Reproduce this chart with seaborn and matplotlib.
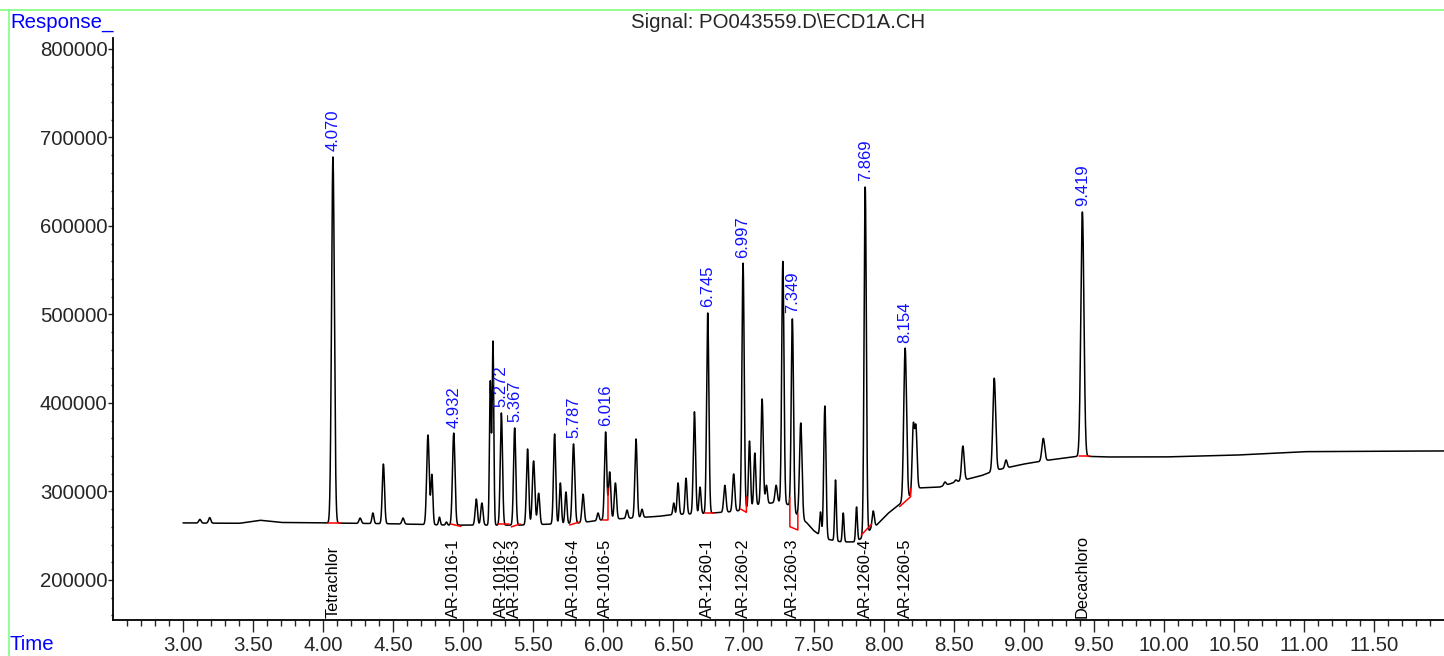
import numpy as np
import pandas as pd
import matplotlib.pyplot as plt
from matplotlib.lines import Line2D
from matplotlib.ticker import FixedLocator, FormatStrFormatter
import seaborn as sns

# baseline knots (time in min, response)
base_t = [3.00, 3.40, 3.55, 3.70, 4.00, 4.50, 4.90, 5.20, 5.40, 5.60, 5.80, 6.00,
          6.20, 6.40, 6.50, 6.70, 6.90, 7.00, 7.10, 7.25, 7.32, 7.40, 7.45, 7.50,
          7.55, 7.60, 7.70, 7.80, 7.85, 7.90, 7.95, 8.03, 8.10, 8.18, 8.25, 8.40,
          8.50, 8.70, 8.80, 9.00, 9.20, 9.40, 9.60, 10.00, 10.50, 11.00, 11.50, 12.00]
base_y = [264500, 264000, 267500, 265000, 264500, 263500, 262000, 262000, 262000,
          263000, 264000, 268000, 270000, 272000, 274000, 275000, 277000, 279000,
          285000, 288000, 285000, 270000, 265000, 256000, 250000, 246000, 243000,
          243000, 248000, 256000, 262000, 275000, 284000, 293000, 304000, 305000,
          310000, 318000, 324000, 331000, 336000, 340000, 339000, 339000, 341000,
          345000, 345500, 345800]

# peak table: retention time, apex response, width (sigma, min)
peak_rt = [3.12, 3.19, 4.070, 4.264, 4.355, 4.430, 4.570, 4.748, 4.776, 4.830, 4.880,
           4.932, 5.093, 5.133, 5.193, 5.212, 5.272, 5.367, 5.459, 5.502, 5.538, 5.652,
           5.693, 5.733, 5.787, 5.855, 5.962, 6.016, 6.045, 6.086, 6.169, 6.233, 6.276,
           6.502, 6.533, 6.590, 6.650, 6.690, 6.745, 6.867, 6.930, 6.997, 7.043, 7.081,
           7.133, 7.164, 7.233, 7.281, 7.349, 7.409, 7.550, 7.581, 7.657, 7.712, 7.807,
           7.869, 7.926, 8.154, 8.212, 8.231, 8.438, 8.516, 8.566, 8.790, 8.874, 9.140,
           9.419]
peak_top = [268500, 270500, 678000, 270000, 275700, 331000, 270000, 363800, 318600,
            271000, 265500, 366000, 291500, 287000, 423700, 469000, 388700, 371800,
            348000, 334500, 298000, 365000, 309600, 299400, 353700, 297000, 275700,
            367200, 322000, 309600, 279000, 359300, 280000, 287000, 309600, 315000,
            390000, 305000, 501700, 307000, 319800, 558000, 357000, 343500, 404500,
            307000, 307000, 560000, 495000, 377400, 276800, 396600, 313000, 275700,
            282500, 644000, 278000, 462000, 373000, 371000, 310700, 313000, 351400,
            428000, 335600, 360000, 615800]
peak_w = [0.008, 0.008, 0.010, 0.008, 0.007, 0.008, 0.008, 0.009, 0.007, 0.006, 0.006,
          0.009, 0.008, 0.008, 0.006, 0.006, 0.008, 0.008, 0.008, 0.009, 0.008, 0.008,
          0.007, 0.007, 0.009, 0.008, 0.007, 0.008, 0.008, 0.008, 0.007, 0.008, 0.007,
          0.006, 0.007, 0.007, 0.008, 0.007, 0.008, 0.008, 0.008, 0.008, 0.007, 0.007,
          0.008, 0.007, 0.008, 0.008, 0.008, 0.009, 0.006, 0.008, 0.006, 0.006, 0.006,
          0.008, 0.008, 0.010, 0.008, 0.008, 0.008, 0.008, 0.009, 0.010, 0.008, 0.010,
          0.011]

# integrated peaks: retention time label and compound name
label_rt = [4.070, 4.932, 5.272, 5.367, 5.787, 6.016, 6.745, 6.997, 7.349, 7.869, 8.154, 9.419]
label_top = [678000, 366000, 388700, 371800, 353700, 367200, 501700, 558000, 495000,
             644000, 462000, 615800]
compounds = ["Tetrachlor", "AR-1016-1", "AR-1016-2", "AR-1016-3", "AR-1016-4",
             "AR-1016-5", "AR-1260-1", "AR-1260-2", "AR-1260-3", "AR-1260-4",
             "AR-1260-5", "Decachloro"]

# integration baselines (red), one polyline per peak
red_t = [[4.036, 4.130], [4.912, 4.983], [5.248, 5.324], [5.343, 5.407],
         [5.759, 5.829], [5.998, 6.033, 6.033], [6.724, 6.793],
         [6.979, 7.021, 7.021], [7.331, 7.331, 7.388, 7.388], [7.841, 7.914],
         [8.114, 8.193, 8.193], [9.395, 9.474]]
red_y = [[264400, 264400], [263300, 260500], [263300, 263300], [260000, 263300],
         [262100, 265500], [267800, 267800, 304000], [275700, 275700],
         [280200, 276500, 293800], [293000, 260200, 256500, 275300], [250800, 263000],
         [282900, 294100, 303600], [340500, 340500]]

# build the trace from the peak table
t = np.arange(3.0, 12.0, 0.001)
baseline = np.interp(t, base_t, base_y)
signal = baseline.copy()
for rt, top, w in zip(peak_rt, peak_top, peak_w):
    amp = top - np.interp(rt, base_t, base_y)
    signal += amp * np.exp(-0.5 * ((t - rt) / w) ** 2)
trace = pd.DataFrame({"time": t, "response": signal})

sns.set_style("white")
plt.rcParams["font.family"] = ["Liberation Sans", "DejaVu Sans"]
plt.rcParams["font.size"] = 14.7

fig = plt.figure(figsize=(14.44, 6.56), dpi=100)
ax = fig.add_axes([113 / 1444, 36 / 656, 1331 / 1444, 582 / 656])

sns.lineplot(data=trace, x="time", y="response", ax=ax, color="black",
             linewidth=1.1, estimator=None, sort=False)

for xs, ys in zip(red_t, red_y):
    ax.plot(xs, ys, color="red", linewidth=1.1)

for rt, top in zip(label_rt, label_top):
    ax.annotate(f"{rt:.3f}", xy=(rt, top), xytext=(0, 4), textcoords="offset points",
                rotation=90, ha="center", va="bottom", color="#1010ff", fontsize=12)

for rt, name in zip(label_rt, compounds):
    ax.text(rt, 0.003, name, transform=ax.get_xaxis_transform(), rotation=90,
            ha="center", va="bottom", fontsize=11.8, color="black")

ax.set_xlim(2.5, 12.0)
ax.set_ylim(154800, 812400)
ax.set_xlabel("")
ax.set_ylabel("")

major_x = [3.0 + 0.5 * i for i in range(18)]
minor_x = [round(2.6 + 0.1 * i, 1) for i in range(94)]
minor_x = [v for v in minor_x if v not in major_x]
ax.xaxis.set_major_locator(FixedLocator(major_x))
ax.xaxis.set_minor_locator(FixedLocator(minor_x))
ax.xaxis.set_major_formatter(FormatStrFormatter("%.2f"))
ax.yaxis.set_major_locator(FixedLocator([200000, 300000, 400000, 500000, 600000,
                                         700000, 800000]))
ax.yaxis.set_minor_locator(FixedLocator(list(range(160000, 812000, 20000))))
ax.yaxis.set_major_formatter(FormatStrFormatter("%d"))

ax.tick_params(axis="x", which="major", direction="out", length=8.6, width=1,
               pad=3, labelsize=14.7, bottom=True)
ax.tick_params(axis="x", which="minor", direction="out", length=4.3, width=1, bottom=True)
ax.tick_params(axis="y", which="major", direction="out", length=3.6, width=1,
               pad=0.5, labelsize=14.7, left=True)
ax.tick_params(axis="y", which="minor", direction="out", length=1.5, width=1, left=True)

for side in ["top", "right"]:
    ax.spines[side].set_visible(False)
for side in ["left", "bottom"]:
    ax.spines[side].set_color("black")
    ax.spines[side].set_linewidth(1.3)

fig.text(0.539, 1 - 22 / 656, "Signal: PO043559.D\\ECD1A.CH", ha="center", va="center",
         fontsize=14.7)
fig.text(10 / 1444, 1 - 22 / 656, "Response_", color="blue", ha="left", va="center",
         fontsize=14.7)
fig.text(10 / 1444, 1 - 645 / 656, "Time", color="blue", ha="left", va="center",
         fontsize=14.7)

fig.add_artist(Line2D([0, 1], [1 - 10 / 656, 1 - 10 / 656], color="#80ff80",
                      linewidth=1.2, transform=fig.transFigure))
fig.add_artist(Line2D([9 / 1444, 9 / 1444], [0, 1 - 10 / 656], color="#80ff80",
                      linewidth=1.2, transform=fig.transFigure))

fig.savefig("out.png", dpi=100)
